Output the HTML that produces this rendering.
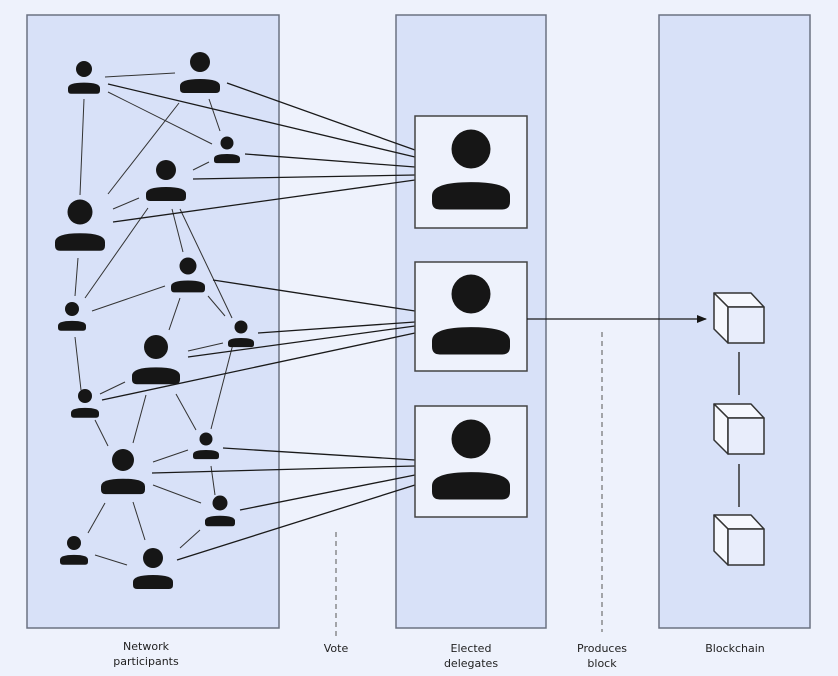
<!DOCTYPE html>
<html><head><meta charset="utf-8"><style>
html,body{margin:0;padding:0;background:#eef2fc;}
svg{display:block}
text{font-family:"DejaVu Sans","Liberation Sans",sans-serif;font-size:11px;fill:#222;text-anchor:middle}
</style></head><body>
<svg width="838" height="676" viewBox="0 0 838 676" xmlns="http://www.w3.org/2000/svg">
<defs>
<g id="p">
<circle cx="0" cy="0" r="10" fill="#161616"/>
<path d="M-20,27 L-20,24 Q-20,17 0,17 Q20,17 20,24 L20,27 Q20,31 16,31 L-16,31 Q-20,31 -20,27 Z" fill="#161616"/>
</g>
<marker id="ar" markerWidth="10" markerHeight="8" refX="9" refY="4" orient="auto" markerUnits="userSpaceOnUse">
<path d="M0,0 L10,4 L0,8 Z" fill="#161616"/></marker>
</defs>
<rect width="838" height="676" fill="#eef2fc"/>
<rect x="27" y="15" width="252" height="613" fill="#d8e1f8" stroke="#6b7282" stroke-width="1.5"/>
<rect x="396" y="15" width="150" height="613" fill="#d8e1f8" stroke="#6b7282" stroke-width="1.5"/>
<rect x="659" y="15" width="151" height="613" fill="#d8e1f8" stroke="#6b7282" stroke-width="1.5"/>

<g stroke="#333" stroke-width="1" fill="none">
<line x1="105" y1="77" x2="175" y2="73"/>
<line x1="108" y1="92" x2="212" y2="144"/>
<line x1="84" y1="99" x2="80" y2="195"/>
<line x1="209" y1="99" x2="220" y2="131"/>
<line x1="179" y1="103" x2="108" y2="194"/>
<line x1="193" y1="170" x2="209" y2="162"/>
<line x1="113" y1="209" x2="139" y2="198"/>
<line x1="148" y1="208" x2="85" y2="298"/>
<line x1="172" y1="209" x2="183" y2="252"/>
<line x1="180" y1="209" x2="232" y2="318"/>
<line x1="78" y1="258" x2="75" y2="296"/>
<line x1="92" y1="311" x2="165" y2="286"/>
<line x1="180" y1="298" x2="169" y2="330"/>
<line x1="208" y1="296" x2="225" y2="316"/>
<line x1="188" y1="351" x2="223" y2="343"/>
<line x1="100" y1="394" x2="125" y2="382"/>
<line x1="75" y1="337" x2="81" y2="390"/>
<line x1="95" y1="420" x2="108" y2="446"/>
<line x1="146" y1="395" x2="133" y2="443"/>
<line x1="176" y1="394" x2="196" y2="430"/>
<line x1="233" y1="344" x2="211" y2="429"/>
<line x1="153" y1="462" x2="188" y2="450"/>
<line x1="153" y1="485" x2="201" y2="503"/>
<line x1="211" y1="466" x2="215" y2="495"/>
<line x1="105" y1="503" x2="88" y2="533"/>
<line x1="133" y1="502" x2="145" y2="540"/>
<line x1="95" y1="555" x2="127" y2="565"/>
<line x1="180" y1="548" x2="200" y2="530"/>
</g>
<g stroke="#1a1a1a" stroke-width="1.3" fill="none">
<line x1="227" y1="83" x2="415" y2="150"/>
<line x1="108" y1="84" x2="415" y2="157"/>
<line x1="245" y1="154" x2="415" y2="167"/>
<line x1="193" y1="179" x2="415" y2="175"/>
<line x1="113" y1="222" x2="415" y2="180"/>
<line x1="213" y1="280" x2="415" y2="311"/>
<line x1="258" y1="333" x2="415" y2="322"/>
<line x1="188" y1="357" x2="415" y2="326"/>
<line x1="102" y1="400" x2="415" y2="333"/>
<line x1="223" y1="448" x2="415" y2="460"/>
<line x1="152" y1="473" x2="415" y2="466"/>
<line x1="240" y1="510" x2="415" y2="475"/>
<line x1="177" y1="560" x2="415" y2="485"/>
</g>

<g>
<use href="#p" transform="translate(84,69) scale(0.8)"/>
<use href="#p" transform="translate(200,62) scale(1)"/>
<use href="#p" transform="translate(227,143) scale(0.65)"/>
<use href="#p" transform="translate(166,170) scale(1)"/>
<use href="#p" transform="translate(80,212) scale(1.25)"/>
<use href="#p" transform="translate(188,266) scale(0.85)"/>
<use href="#p" transform="translate(72,309) scale(0.7)"/>
<use href="#p" transform="translate(241,327) scale(0.65)"/>
<use href="#p" transform="translate(156,347) scale(1.2)"/>
<use href="#p" transform="translate(85,396) scale(0.7)"/>
<use href="#p" transform="translate(123,460) scale(1.1)"/>
<use href="#p" transform="translate(206,439) scale(0.65)"/>
<use href="#p" transform="translate(220,503) scale(0.75)"/>
<use href="#p" transform="translate(74,543) scale(0.7)"/>
<use href="#p" transform="translate(153,558) scale(1)"/>
</g>

<g fill="#eef2fc" stroke="#444" stroke-width="1.5">
<rect x="415" y="116" width="112" height="112"/>
<rect x="415" y="262" width="112" height="109"/>
<rect x="415" y="406" width="112" height="111"/>
</g>
<use href="#p" transform="translate(471,149) scale(1.95)"/>
<use href="#p" transform="translate(471,294) scale(1.95)"/>
<use href="#p" transform="translate(471,439) scale(1.95)"/>

<line x1="527" y1="319" x2="706" y2="319" stroke="#1a1a1a" stroke-width="1.3" marker-end="url(#ar)"/>

<g stroke="#555" stroke-width="1" stroke-dasharray="5,4">
<line x1="336" y1="532" x2="336" y2="637"/>
<line x1="602" y1="332" x2="602" y2="632"/>
</g>

<g stroke="#333" stroke-width="1.5" stroke-linejoin="round">
<g transform="translate(0,0)">
<path d="M714,293 L751,293 L764,307 L728,307 Z" fill="#f6f8fe"/>
<path d="M714,293 L728,307 L728,343 L714,329 Z" fill="#f6f8fe"/>
<rect x="728" y="307" width="36" height="36" fill="#e8edfb"/>
</g>
<g transform="translate(0,111)">
<path d="M714,293 L751,293 L764,307 L728,307 Z" fill="#f6f8fe"/>
<path d="M714,293 L728,307 L728,343 L714,329 Z" fill="#f6f8fe"/>
<rect x="728" y="307" width="36" height="36" fill="#e8edfb"/>
</g>
<g transform="translate(0,222)">
<path d="M714,293 L751,293 L764,307 L728,307 Z" fill="#f6f8fe"/>
<path d="M714,293 L728,307 L728,343 L714,329 Z" fill="#f6f8fe"/>
<rect x="728" y="307" width="36" height="36" fill="#e8edfb"/>
</g>
<line x1="739" y1="352" x2="739" y2="395"/>
<line x1="739" y1="464" x2="739" y2="507"/>
</g>

<text x="146" y="650">Network</text>
<text x="146" y="665">participants</text>
<text x="336" y="652">Vote</text>
<text x="471" y="652">Elected</text>
<text x="471" y="667">delegates</text>
<text x="602" y="652">Produces</text>
<text x="602" y="667">block</text>
<text x="735" y="652">Blockchain</text>
</svg>
</body></html>
